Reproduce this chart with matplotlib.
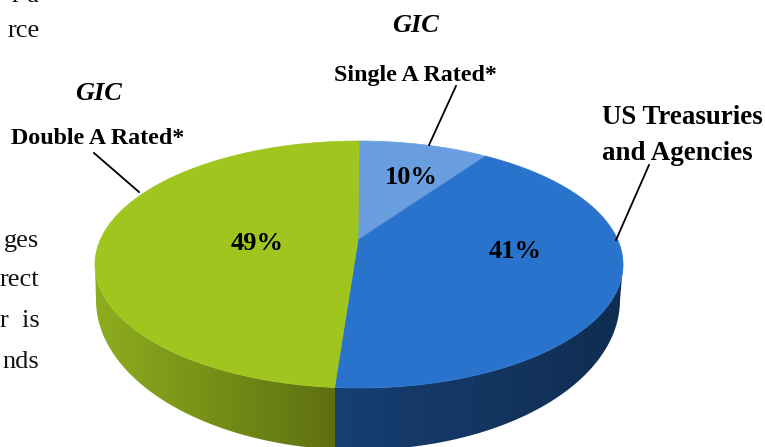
import numpy as np
import matplotlib
matplotlib.use("Agg")
import matplotlib.pyplot as plt
from matplotlib.colors import LinearSegmentedColormap
from matplotlib.patches import Polygon

# clockwise from twelve o'clock, estimated from the slice edges (printed labels are rounded)
SLICE_NAMES = ['GIC Single A Rated', 'US Treasuries and Agencies', 'GIC Double A Rated']
SLICE_VALUES = [9.6, 41.4, 48.6]
SLICE_LABELS = ['10%', '41%', '49%']

TOP_COLORS = ['#699FE0', '#2A73CC', '#9FC51E']

# top face ellipse and the smaller rim at the foot of the wall, in pixels
CX, CY, RX, RY = 359, 264.5, 264, 123.5
FOOT_CX, FOOT_CY, FOOT_RX, FOOT_RY = 358, 300, 262, 150
# how far the pie's centre is pushed back by the perspective
TILT = 0.198

SERIF = 'Liberation Serif'


def project(angles):
    # angles in degrees, clockwise from the top
    x = np.sin(np.radians(angles))
    y = np.cos(np.radians(angles))
    w = 1 + TILT * y
    u = x * np.sqrt(1 - TILT ** 2) / w
    v = (y + TILT) / w
    return CX + RX * u, CY - RY * v


def draw_wall(ax, x_from, x_to, left_color, right_color):
    # wall = band between lower half of top ellipse and lower half of foot ellipse
    t = np.linspace(0, np.pi, 200)
    top_x = CX + RX * np.cos(t)
    top_y = CY + RY * np.sin(t)
    foot_x = FOOT_CX + FOOT_RX * np.cos(t[::-1])
    foot_y = FOOT_CY + FOOT_RY * np.sin(t[::-1])
    outline = np.column_stack([np.r_[top_x, foot_x], np.r_[top_y, foot_y]])
    clip = Polygon(outline, closed=True, transform=ax.transData, fc='none', ec='none')
    ax.add_patch(clip)

    cmap = LinearSegmentedColormap.from_list('wall', [left_color, right_color])
    img = ax.imshow(np.linspace(0, 1, 256).reshape(1, -1), cmap=cmap, aspect='auto',
                    extent=(x_from, x_to, 460, 240), zorder=1)
    img.set_clip_path(clip)


def draw_pie(ax):
    edges = np.cumsum([0] + SLICE_VALUES) / sum(SLICE_VALUES) * 360
    split_x = project(edges[2])[0]

    draw_wall(ax, 90, split_x, '#8FAE1F', '#5E7010')
    draw_wall(ax, split_x, 630, '#173F72', '#0F2C50')

    apex = (CX - 1, CY - RY * TILT)
    for i in range(len(SLICE_VALUES)):
        a = np.linspace(edges[i], edges[i + 1], 200)
        px, py = project(a)
        pts = np.column_stack([np.r_[apex[0], px], np.r_[apex[1], py]])
        ax.add_patch(Polygon(pts, closed=True, fc=TOP_COLORS[i], ec=TOP_COLORS[i], lw=0.5, zorder=2))


def draw_text(ax):
    bold = dict(family=SERIF, fontweight='bold', color='black', va='center', zorder=4)

    ax.text(411, 178, SLICE_LABELS[0], ha='center', fontsize=19, **bold)
    ax.text(515, 252, SLICE_LABELS[1], ha='center', fontsize=19, **bold)
    ax.text(257, 244, SLICE_LABELS[2], ha='center', fontsize=19, **bold)

    ax.text(416, 25, 'GIC', ha='center', fontsize=19, fontstyle='italic', **bold)
    ax.text(99, 94, 'GIC', ha='center', fontsize=19, fontstyle='italic', **bold)
    ax.text(415.5, 76, 'Single A Rated*', ha='center', fontsize=17.3, **bold)
    ax.text(97.5, 139, 'Double A Rated*', ha='center', fontsize=17.3, **bold)
    ax.text(602, 118, 'US Treasuries', ha='left', fontsize=19.4, **bold)
    ax.text(602, 154, 'and Agencies', ha='left', fontsize=19.4, **bold)

    # leaders
    ax.plot([94, 139], [153, 192], color='black', lw=1.3, zorder=3)
    ax.plot([456, 429], [86, 145], color='black', lw=1.3, zorder=3)
    ax.plot([649, 616], [165, 240], color='black', lw=1.3, zorder=3)

    # ends of lines of the page text beside the chart
    for y, s in [(31, 'rce'), (241, 'ges'), (280, 'rect'), (321, 'r  is'), (362, 'nds')]:
        ax.text(39.5, y, s, ha='right', va='center', family=SERIF, fontsize=19, color='#111111', zorder=4)
    # only the feet of this line are on the page
    ax.text(39.5, 2, 'r a', ha='right', va='baseline', family=SERIF, fontsize=19, color='#111111', zorder=4)


def main():
    fig = plt.figure(figsize=(7.65, 4.47), dpi=100)
    ax = fig.add_axes([0, 0, 1, 1])
    draw_pie(ax)
    draw_text(ax)
    ax.set_xlim(0, 765)
    ax.set_ylim(447, 0)
    ax.axis('off')
    fig.savefig('out.png', dpi=100)


if __name__ == "__main__":
    main()
